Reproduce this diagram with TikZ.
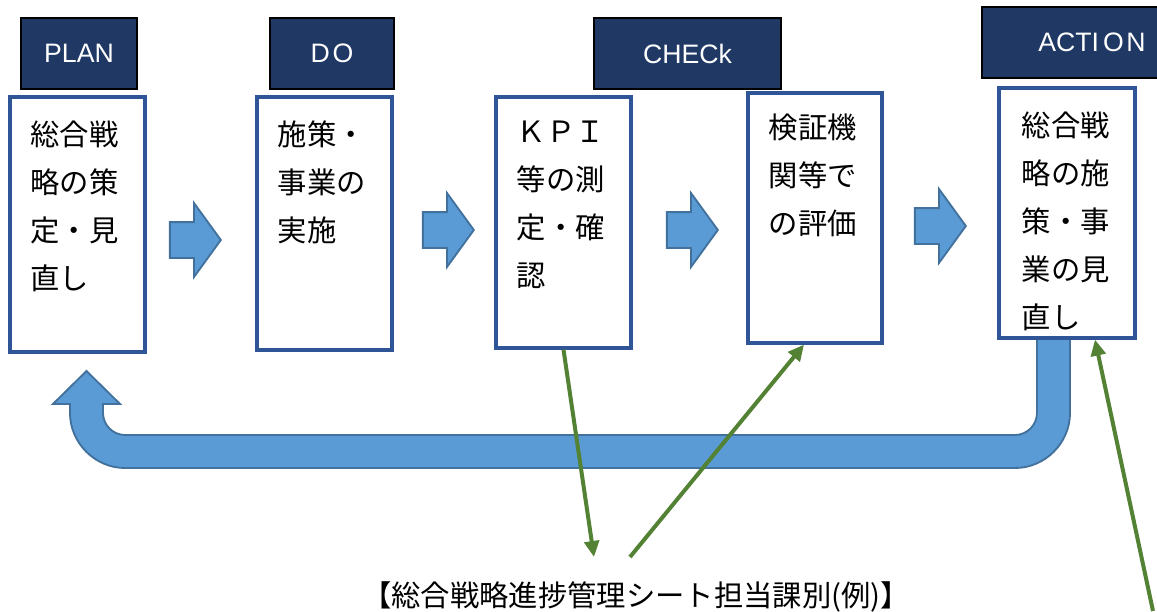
\documentclass[tikz,border=0pt]{standalone}
\usepackage{fontspec}
\newfontfamily\jpfont{Noto Sans CJK JP}
\newfontfamily\hdfont{Liberation Sans}
\usetikzlibrary{shapes.arrows,arrows.meta}
\definecolor{navy}{HTML}{1F3864}
\definecolor{boxblue}{HTML}{2F5597}
\definecolor{flowfill}{HTML}{5B9BD5}
\definecolor{flowline}{HTML}{41719C}
\definecolor{linkgreen}{HTML}{548235}
\tikzset{
  head/.style={draw=black,line width=0.8pt,fill=navy,text=white,inner sep=0pt,
    minimum height=53.25pt,font=\hdfont\fontsize{20pt}{24pt}\selectfont},
  card/.style={draw=boxblue,line width=2.4pt,fill=white,inner sep=0pt,minimum width=101.25pt},
  cardtext/.style={anchor=north west,inner sep=0pt,align=left,
    font=\jpfont\fontsize{22pt}{36pt}\selectfont},
  flow/.style={single arrow,draw=flowline,fill=flowfill,line width=1.4pt,
    inner xsep=0pt,inner ysep=12.75pt,single arrow head extend=14.25pt,
    single arrow tip angle=108,minimum height=38.25pt,anchor=tip},
  link/.style={draw=linkgreen,line width=3pt,-{Triangle[length=12pt,width=11pt]}}
}
\begin{document}
\begin{tikzpicture}[x=0.75pt,y=-0.75pt]
  \useasboundingbox (0,0) rectangle (1157,611);
  \clip (0,0) rectangle (1157,611);

  % return arrow
  \filldraw[draw=flowline,fill=flowfill,line width=1.4pt]
    (1037,336) -- (1070,336) -- (1070,413) .. controls (1070,443) and (1045,468) .. (1015,468)
    -- (125,468) .. controls (95,468) and (70,443) .. (70,413)
    -- (70,404) -- (53,404) -- (86.5,371) -- (120,404) -- (103,404)
    -- (103,413) .. controls (103,425) and (113,435) .. (125,435)
    -- (1015,435) .. controls (1027,435) and (1037,425) .. (1037,413) -- cycle;

  \node[head,minimum width=87pt] (hplan) at (79,53.5) {PLAN};
  \node[head,minimum width=93pt] (hdo) at (332,53.5) {D\kern2pt O};
  \node[head,minimum width=140.25pt] (hcheck) at (687.5,53.5) {CHECk};
  \node[head,minimum width=165pt] (haction) at (1092,42.5) {ACTI\kern3pt O\kern2pt N};

  \node[card,minimum height=191.25pt] (bplan) at (77.5,224.5) {};
  \node[card,minimum height=189.75pt] (bdo) at (324.5,223.5) {};
  \node[card,minimum height=188.25pt] (bkpi) at (563.5,222.5) {};
  \node[card,minimum height=187.5pt,minimum width=100.5pt] (beval) at (815,218) {};
  \node[card,minimum height=187.5pt,minimum width=102pt] (bact) at (1067,213) {};

  \node[cardtext] (tplan) at ([shift={(22,25)}]bplan.north west) {総合戦\\略の策\\定・見\\直し};
  \node[cardtext] (tdo) at ([shift={(22,25)}]bdo.north west) {施策・\\事業の\\実施};
  \node[cardtext] (tkpi) at ([shift={(22,25)}]bkpi.north west) {ＫＰＩ\\等の測\\定・確\\認};
  \node[cardtext] (teval) at ([shift={(22,22)}]beval.north west) {検証機\\関等で\\の評価};
  \node[cardtext] (tact) at ([shift={(24,25)}]bact.north west) {総合戦\\略の施\\策・事\\業の見\\直し};

  \node[flow] (a1) at (222,240) {};
  \node[flow] (a2) at (475,230) {};
  \node[flow] (a3) at (719,230) {};
  \node[flow] (a4) at (967,226) {};

  \node[inner sep=0pt,font=\jpfont\fontsize{22pt}{26pt}\selectfont] (sheet) at (636,597)
    {【総合戦略進捗管理シート担当課別(例)】};

  \coordinate (kpiend) at (594,557);
  \coordinate (evalfrom) at (630,557);
  \coordinate (actfrom) at (1153,611);
  \draw[link] (bkpi.south) -- (kpiend);
  \draw[link] (evalfrom) -- ([xshift=-8.25pt]beval.south);
  \draw[link] (actfrom) -- ([xshift=21pt]bact.south);

\end{tikzpicture}
\end{document}
